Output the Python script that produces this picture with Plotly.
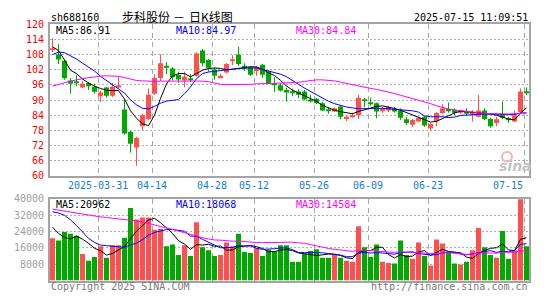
import plotly.graph_objects as go

# ---------------- data ----------------
dates = [
    "2025-03-19", "2025-03-20", "2025-03-21", "2025-03-24", "2025-03-25", "2025-03-26", "2025-03-27", "2025-03-28",
    "2025-03-31", "2025-04-01", "2025-04-02", "2025-04-03", "2025-04-07", "2025-04-08", "2025-04-09", "2025-04-10",
    "2025-04-11", "2025-04-14", "2025-04-15", "2025-04-16", "2025-04-17", "2025-04-18", "2025-04-21", "2025-04-22",
    "2025-04-23", "2025-04-24", "2025-04-25", "2025-04-28", "2025-04-29", "2025-04-30", "2025-05-06", "2025-05-07",
    "2025-05-08", "2025-05-09", "2025-05-12", "2025-05-13", "2025-05-14", "2025-05-15", "2025-05-16", "2025-05-19",
    "2025-05-20", "2025-05-21", "2025-05-22", "2025-05-23", "2025-05-26", "2025-05-27", "2025-05-28", "2025-05-29",
    "2025-05-30", "2025-06-03", "2025-06-04", "2025-06-05", "2025-06-06", "2025-06-09", "2025-06-10", "2025-06-11",
    "2025-06-12", "2025-06-13", "2025-06-16", "2025-06-17", "2025-06-18", "2025-06-19", "2025-06-20", "2025-06-23",
    "2025-06-24", "2025-06-25", "2025-06-26", "2025-06-27", "2025-06-30", "2025-07-01", "2025-07-02", "2025-07-03",
    "2025-07-04", "2025-07-07", "2025-07-08", "2025-07-09", "2025-07-10", "2025-07-11", "2025-07-14", "2025-07-15",
]

open_ = [110.0, 108.1, 105.6, 97.75, 97.2, 95.0, 96.75, 95.25, 91.5, 95.0,
         91.75, 95.0, 86.25, 77.5, 71.25, 79.6, 82.5, 92.5, 98.75, 103.6,
         102.5, 99.9, 97.75, 98.6, 99.6, 109.6, 105.9, 102.1, 99.0, 100.9,
         105.6, 108.0, 103.6, 103.0, 101.5, 104.0, 101.25, 96.5, 95.9, 94.0,
         93.2, 93.4, 93.4, 90.25, 90.5, 88.75, 86.0, 85.5, 87.5, 82.5,
         83.5, 84.0, 90.25, 89.0, 88.75, 85.6, 85.9, 86.5, 85.9, 82.4,
         80.25, 81.5, 83.4, 78.75, 81.5, 84.9, 86.5, 86.1, 85.0, 85.5,
         84.6, 83.4, 85.9, 82.5, 80.9, 84.6, 82.6, 81.5, 85.25, 93.1]
high = [114.5, 112.2, 106.0, 98.75, 100.0, 97.5, 97.1, 96.5, 93.75, 95.25,
        96.75, 99.4, 90.25, 77.75, 75.5, 84.6, 94.6, 100.25, 108.1, 105.0,
        103.1, 101.25, 101.25, 100.25, 109.0, 110.25, 106.25, 102.75, 100.4, 104.6,
        107.75, 111.1, 104.6, 103.4, 103.4, 104.25, 101.75, 99.0, 96.75, 94.9,
        94.6, 94.25, 94.0, 92.1, 90.9, 89.25, 87.1, 87.1, 87.75, 84.0,
        85.0, 92.1, 90.9, 90.9, 89.0, 87.25, 87.75, 87.25, 86.75, 83.4,
        82.5, 83.4, 83.75, 80.9, 85.25, 88.4, 89.0, 86.75, 86.25, 86.75,
        86.1, 92.0, 86.75, 83.0, 83.4, 89.4, 83.4, 85.9, 94.6, 95.0]
low = [109.0, 104.3, 98.0, 92.5, 95.5, 94.75, 94.0, 92.5, 89.25, 91.0,
       91.25, 94.6, 76.25, 69.25, 64.0, 78.0, 82.0, 92.1, 97.5, 100.25,
       97.75, 96.75, 95.0, 97.1, 99.25, 103.4, 101.25, 98.1, 98.75, 100.5,
       103.75, 103.4, 101.5, 99.6, 99.6, 98.75, 96.5, 93.25, 93.4, 89.4,
       91.5, 90.75, 89.9, 89.0, 88.4, 85.6, 84.6, 85.25, 82.4, 81.75,
       83.0, 82.5, 87.1, 87.75, 82.75, 84.9, 85.25, 85.0, 82.1, 80.25,
       79.4, 81.25, 79.4, 77.75, 79.6, 84.6, 85.0, 84.0, 84.4, 84.0,
       81.5, 83.1, 82.1, 79.0, 79.6, 82.5, 81.0, 81.25, 85.0, 92.0]
close = [110.3, 106.1, 98.6, 96.5, 96.8, 96.5, 95.5, 93.25, 93.0, 91.75,
         95.25, 95.9, 76.75, 72.75, 75.0, 84.0, 92.1, 98.75, 104.6, 102.75,
         99.0, 98.1, 99.25, 98.2, 108.4, 104.6, 102.75, 99.6, 99.6, 104.25,
         105.9, 104.25, 102.75, 100.0, 103.0, 100.0, 96.75, 95.9, 93.75, 93.0,
         93.0, 92.1, 90.25, 89.4, 88.75, 85.9, 85.9, 86.75, 83.4, 83.4,
         84.0, 90.9, 89.6, 88.4, 85.5, 86.5, 87.25, 85.5, 83.0, 80.9,
         82.1, 83.0, 79.9, 80.5, 84.9, 86.75, 85.75, 85.0, 85.9, 84.6,
         85.25, 85.9, 82.5, 79.6, 82.4, 83.0, 82.25, 84.0, 93.4, 92.9]

ma5 = [111.1, 109.6, 105.9, 101.8, 100.5, 98.3, 96.8, 95.5, 94.6, 93.9,
       93.75, 93.75, 90.4, 85.8, 82.8, 80.6, 79.9, 84.0, 90.6, 96.4,
       99.5, 100.5, 100.5, 99.2, 100.5, 101.8, 102.5, 102.7, 102.5, 102.0,
       102.2, 102.6, 103.1, 103.2, 103.1, 102.2, 100.8, 99.7, 97.8, 95.6,
       93.9, 92.8, 91.6, 90.8, 89.5, 87.9, 86.8, 86.0, 85.4, 84.9,
       84.6, 85.5, 86.2, 86.9, 87.5, 87.7, 87.3, 86.7, 86.0, 85.0,
       84.2, 83.0, 82.0, 81.3, 81.6, 82.7, 83.7, 84.9, 85.6, 85.4,
       85.0, 84.8, 84.6, 84.5, 84.0, 83.2, 82.5, 82.2, 84.9, 86.91]
ma10 = [108.0, 109.0, 108.75, 107.5, 106.25, 104.6, 103.1, 101.5, 99.4, 97.75,
        96.25, 94.6, 92.75, 90.1, 88.1, 86.75, 86.5, 87.5, 88.75, 89.6,
        90.0, 90.2, 92.5, 95.2, 98.5, 100.5, 101.1, 101.4, 101.6, 101.9,
        102.1, 102.5, 102.6, 102.75, 102.75, 102.1, 101.5, 101.1, 100.25, 99.25,
        97.9, 96.25, 94.75, 93.4, 92.1, 90.75, 89.5, 88.6, 87.9, 87.25,
        86.9, 86.6, 86.6, 86.75, 86.75, 86.75, 86.6, 86.3, 86.0, 85.9,
        85.75, 85.25, 83.75, 83.4, 83.4, 83.4, 83.1, 83.25, 83.9, 84.1,
        84.25, 84.4, 84.5, 84.4, 84.4, 84.25, 84.25, 84.25, 84.9, 84.97]
ma30 = [95.5, 96.25, 96.9, 97.5, 98.0, 98.5, 98.9, 99.1, 99.5, 99.6,
        99.6, 99.4, 98.9, 98.4, 97.75, 97.6, 97.4, 97.4, 97.5, 97.5,
        97.6, 97.75, 97.75, 97.75, 97.6, 97.5, 97.25, 96.75, 96.25, 96.1,
        96.1, 96.1, 96.1, 96.25, 96.4, 96.5, 96.5, 96.6, 96.75, 96.75,
        96.75, 97.0, 97.4, 97.75, 98.0, 98.0, 97.9, 97.6, 97.1, 96.6,
        96.0, 95.4, 95.0, 94.6, 94.25, 93.75, 93.25, 92.6, 91.9, 91.25,
        90.6, 89.9, 89.4, 88.6, 87.75, 87.0, 86.5, 86.1, 85.75, 85.4,
        85.1, 85.0, 84.75, 84.6, 84.5, 84.5, 84.5, 84.6, 84.75, 84.84]

volume = [20700, 19600, 23850, 22900, 21970, 13000, 9730, 11600, 16800, 11140,
          17260, 17260, 21000, 35600, 29970, 30900, 30900, 24950, 25260, 16790,
          17730, 12550, 17260, 12080, 28560, 16320, 14900, 12080, 12550, 18670,
          16790, 22900, 13960, 13490, 15850, 12080, 15060, 14430, 17260, 17260,
          9260, 9260, 13020, 14430, 15380, 11140, 11140, 12550, 11140, 9730,
          9260, 26670, 16320, 11610, 17730, 9260, 8630, 8320, 19610, 12550,
          10670, 18670, 12080, 7370, 20080, 18200, 13960, 8320, 7850, 9260,
          14900, 25730, 16320, 12550, 11140, 24320, 10670, 14900, 39850, 16790]
vma5 = [26200, 23100, 21200, 20400, 21800, 20300, 18300, 15800, 14600, 12500,
        13300, 14800, 16700, 20500, 24200, 26900, 29700, 30500, 28400, 25800,
        23100, 19500, 17900, 15300, 17600, 17400, 17800, 16800, 16900, 14900,
        15000, 16600, 17000, 17200, 16600, 15700, 14100, 14200, 14900, 15200,
        14700, 13500, 13200, 12600, 12300, 12600, 13000, 12900, 12300, 11100,
        10800, 13900, 14600, 14700, 16300, 16300, 12700, 11100, 12700, 11700,
        12000, 14000, 14700, 12300, 13800, 15300, 14300, 13600, 13700, 11500,
        10900, 13200, 14800, 15800, 16100, 18000, 15000, 14700, 20200, 20962]
vma10 = [33700, 33100, 32000, 29800, 27000, 23900, 20700, 18700, 17400, 17100,
         16800, 16600, 16300, 17500, 18300, 20100, 22200, 23600, 24400, 25000,
         25000, 24600, 24200, 21800, 21700, 20200, 18600, 17400, 16100, 16300,
         16200, 17200, 16900, 17000, 15800, 15300, 15300, 15600, 16000, 15900,
         15200, 13800, 13700, 13800, 13700, 13600, 13300, 13100, 12500, 11700,
         11700, 13400, 13800, 13500, 13700, 13500, 13300, 12900, 13700, 14000,
         14100, 13300, 12900, 12500, 12700, 13600, 14100, 14100, 13000, 12600,
         13100, 13800, 14200, 14700, 13800, 14400, 14100, 14700, 17800, 18068]
vma30 = [35000, 34500, 34000, 33600, 33100, 32600, 32200, 31700, 31200, 30900,
         30600, 30300, 30000, 29700, 29200, 28700, 28100, 27300, 26500, 25900,
         25100, 24300, 23400, 22600, 21800, 21000, 20400, 19900, 19800, 19500,
         19300, 19400, 19100, 18800, 18600, 18600, 18700, 18800, 18900, 19000,
         18800, 18500, 18300, 17600, 17100, 16400, 15700, 15300, 14900, 14600,
         14300, 14800, 14800, 14800, 14400, 14200, 14000, 13800, 14100, 13900,
         13700, 13500, 13500, 13300, 13400, 13600, 13600, 13400, 13000, 12800,
         13000, 13500, 13600, 13600, 13400, 13900, 13800, 13900, 14500, 14584]

price_ticks = [60, 66, 72, 78, 84, 90, 96, 102, 108, 114, 120]
vol_ticks = [8000, 16000, 24000, 32000, 40000]
label_dates = ["2025-03-31", "2025-04-14", "2025-04-28", "2025-05-12",
               "2025-05-26", "2025-06-09", "2025-06-23", "2025-07-15"]
label_text = ["2025-03-31", "04-14", "04-28", "05-12", "05-26", "06-09", "06-23", "07-15"]

# ---------------- layout geometry ----------------
W, H = 545, 300
L, R = 50, 529
MAIN_TOP, MAIN_BOT = 19, 177
VOL_TOP, VOL_BOT = 201, 286
STEP = 6.0
X_LO = -2.5 / STEP
X_HI = X_LO + (R - L) / STEP

MONO = "DejaVu Sans Mono"
CJK = "Noto Sans CJK SC"
RED = "#ff5050"
GREEN = "#00a800"
GRID = "#b0b0b0"
BORDER = "#a4a4a4"


def fx(p):
    return p / W


def fy(p):
    return 1 - p / H


n = len(dates)
xs = list(range(n))
up = [c >= o for o, c in zip(open_, close)]
bar_colors = [RED if u else GREEN for u in up]
grid_x = [dates.index(d) - 1.0 / 3.0 for d in label_dates]

fig = go.Figure()

# candle wicks
for col, flag in ((RED, True), (GREEN, False)):
    wx, wy = [], []
    for i in range(n):
        if up[i] == flag:
            wx += [xs[i], xs[i], None]
            wy += [low[i], high[i], None]
    fig.add_trace(go.Scatter(x=wx, y=wy, mode="lines", line=dict(color=col, width=1),
                             xaxis="x", yaxis="y", hoverinfo="skip"))

# candle bodies
body_base = [min(o, c) for o, c in zip(open_, close)]
body_h = [max(abs(c - o), 0.35) for o, c in zip(open_, close)]
fig.add_trace(go.Bar(x=xs, y=body_h, base=body_base, width=5.0 / STEP,
                     marker=dict(color=bar_colors, line=dict(width=0)),
                     xaxis="x", yaxis="y", hoverinfo="skip"))

# price moving averages
for arr, col in ((ma5, "#000000"), (ma10, "#0000ff"), (ma30, "#ff00ff")):
    fig.add_trace(go.Scatter(x=xs, y=arr, mode="lines", line=dict(color=col, width=1),
                             xaxis="x", yaxis="y", hoverinfo="skip"))

# volume bars
fig.add_trace(go.Bar(x=xs, y=volume, width=5.0 / STEP,
                     marker=dict(color=bar_colors, line=dict(width=0)),
                     xaxis="x2", yaxis="y2", hoverinfo="skip"))
for arr, col in ((vma5, "#000000"), (vma10, "#0000ff"), (vma30, "#ff00ff")):
    fig.add_trace(go.Scatter(x=xs, y=arr, mode="lines", line=dict(color=col, width=1),
                             xaxis="x2", yaxis="y2", hoverinfo="skip"))

common_x = dict(range=[X_LO, X_HI], tickvals=grid_x, showticklabels=False, ticks="",
                showgrid=True, gridcolor="#a8a8a8", gridwidth=1, griddash="5px,4px",
                showline=True, mirror=True, linecolor=BORDER, linewidth=2,
                zeroline=False, fixedrange=True)
fig.update_layout(
    width=W, height=H,
    margin=dict(l=0, r=0, t=0, b=0, pad=0),
    paper_bgcolor="white", plot_bgcolor="white",
    showlegend=False, hovermode=False, barmode="overlay",
    xaxis=dict(domain=[fx(L), fx(R)], anchor="y", **common_x),
    xaxis2=dict(domain=[fx(L), fx(R)], anchor="y2", **common_x),
    yaxis=dict(domain=[fy(MAIN_BOT), fy(MAIN_TOP)], anchor="x", range=[60, 120],
               tickvals=price_ticks, ticktext=[str(t) for t in price_ticks],
               tickfont=dict(family=MONO, size=10, color="#ff0000"), ticks="",
               ticklabelstandoff=2,
               showgrid=True, gridcolor=GRID, gridwidth=1, griddash="2px,2px",
               showline=True, mirror=True, linecolor=BORDER, linewidth=2,
               zeroline=False, fixedrange=True),
    yaxis2=dict(domain=[fy(VOL_BOT), fy(VOL_TOP)], anchor="x2", range=[0, 40000],
                tickvals=vol_ticks, ticktext=[str(t) for t in vol_ticks],
                tickfont=dict(family=MONO, size=10, color="#a0a0a0"), ticks="",
                ticklabelstandoff=2,
                showgrid=True, gridcolor=GRID, gridwidth=1, griddash="2px,2px",
                showline=True, mirror=True, linecolor=BORDER, linewidth=2,
                zeroline=False, fixedrange=True),
)


def txt(s, x, y, color="#000000", size=10, family=MONO, xanchor="left"):
    fig.add_annotation(text=s, x=fx(x), y=fy(y), xref="paper", yref="paper",
                       xanchor=xanchor, yanchor="middle", showarrow=False, borderpad=0,
                       font=dict(family=family, size=size, color=color))


# header line
txt("sh688160", 50, 11.5)
txt("步科股份", 121, 10.5, size=12, family=CJK)
txt("－", 178.5, 10.5, size=12, family=CJK, xanchor="center")
txt("日K线图", 188, 10.5, size=12, family=CJK)
txt(dates[-1] + " 11:09:51", 528.5, 11.5, xanchor="right")

# MA legends
txt("MA5:%.2f" % ma5[-1], 54.5, 25)
txt("MA10:%.2f" % ma10[-1], 174.8, 25, color="#0000ff")
txt("MA30:%.2f" % ma30[-1], 294.7, 25, color="#ff00ff")
txt("MA5:%d" % vma5[-1], 54.5, 206.5)
txt("MA10:%d" % vma10[-1], 174.8, 206.5, color="#0000ff")
txt("MA30:%d" % vma30[-1], 294.7, 206.5, color="#ff00ff")

# date labels
for k, (gx, lab) in enumerate(zip(grid_x, label_text)):
    last = k == len(label_text) - 1
    fig.add_annotation(text=lab, x=gx, y=fy(187), xref="x", yref="paper",
                       xanchor="right" if last else "center", yanchor="middle",
                       xshift=-0.5 if last else -1, showarrow=False, borderpad=0,
                       font=dict(family=MONO, size=10, color="#1580d0"))

# footer
txt("Copyright 2025 SINA.COM", 50, 292.5, color="#7a7a7a")
txt("http://finance.sina.com.cn", 529, 292.5, color="#7a7a7a", xanchor="right")

# sina watermark
fig.add_shape(type="circle", xref="paper", yref="paper",
              x0=fx(502), x1=fx(512), y0=fy(162), y1=fy(152),
              line=dict(color="#f5b4b4", width=2))
txt("<b><i>sina</i></b>", 515, 167, color="#c4c4c4", size=14, family="DejaVu Sans",
    xanchor="center")

fig.write_html("out.html", config={"displayModeBar": False})
